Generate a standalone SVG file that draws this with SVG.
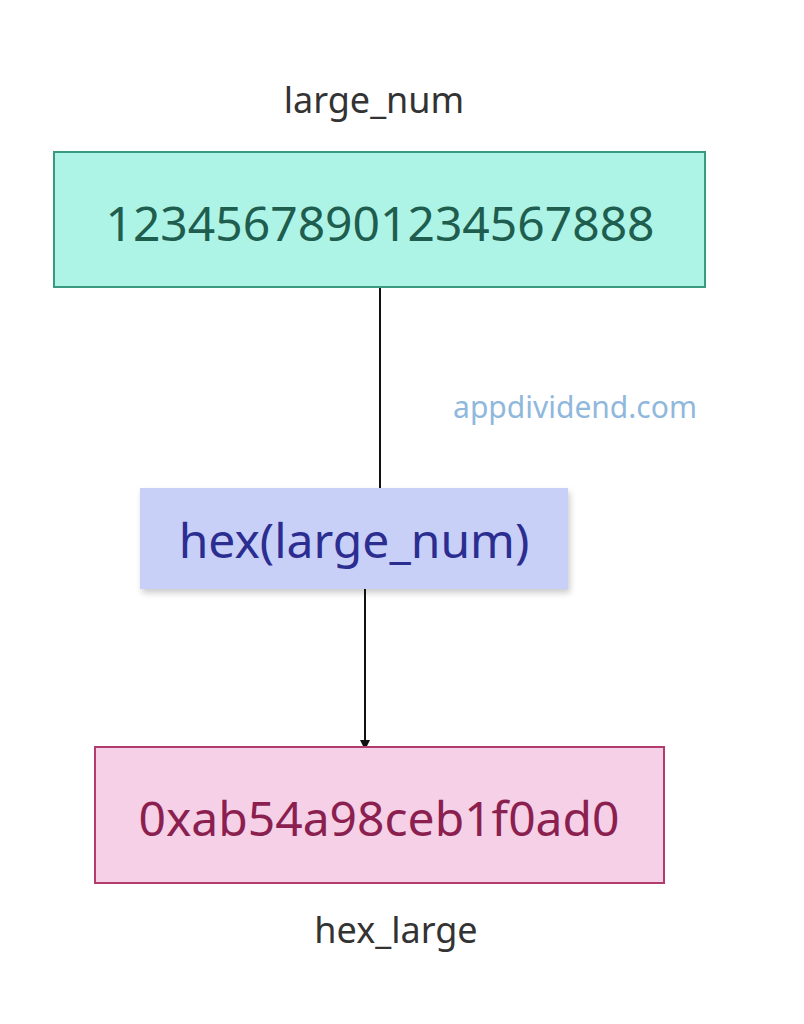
<svg xmlns="http://www.w3.org/2000/svg" width="804" height="1024" viewBox="0 0 804 1024">
<style>
text{font-family:"Noto Sans","Open Sans",sans-serif;text-anchor:middle}
.lbl{font-size:36px;fill:#333}
.big{font-size:48px}
</style>
<defs>
<marker id="ah" viewBox="0 0 10 10" refX="10" refY="5" markerWidth="10" markerHeight="10" markerUnits="userSpaceOnUse" orient="auto"><path d="M0,0L10,5L0,10z" fill="#111"/></marker>
<filter id="sh" x="-10%" y="-20%" width="120%" height="150%"><feDropShadow dx="2" dy="4" stdDeviation="3" flood-color="#000" flood-opacity="0.2"/></filter>
</defs>
<rect width="804" height="1024" fill="#fff"/>
<g id="connectors" stroke="#111" stroke-width="2" fill="none">
<line x1="380" y1="287" x2="380" y2="488"/>
<line x1="365" y1="589" x2="365" y2="750" marker-end="url(#ah)"/>
</g>
<g id="large_num">
<text class="lbl" x="374" y="113">large_num</text>
<rect x="54" y="152" width="651" height="135" fill="#adf4e6" stroke="#3a9a80" stroke-width="2"/>
<text class="big" x="380" y="241" fill="#1f5d4f">12345678901234567888</text>
</g>
<text x="575" y="418" font-size="30" fill="#90b8dc">appdividend.com</text>
<g id="hex_call">
<rect x="140" y="488" width="428" height="101" fill="#c9d0f8" filter="url(#sh)"/>
<text class="big" x="354" y="558" fill="#2b2e90">hex(large_num)</text>
</g>
<g id="hex_large">
<rect x="95" y="747" width="569" height="136" fill="#f5d0e7" stroke="#b03d6e" stroke-width="2"/>
<text class="big" x="379" y="836" fill="#8b1f50">0xab54a98ceb1f0ad0</text>
<text class="lbl" x="396" y="943">hex_large</text>
</g>
</svg>
